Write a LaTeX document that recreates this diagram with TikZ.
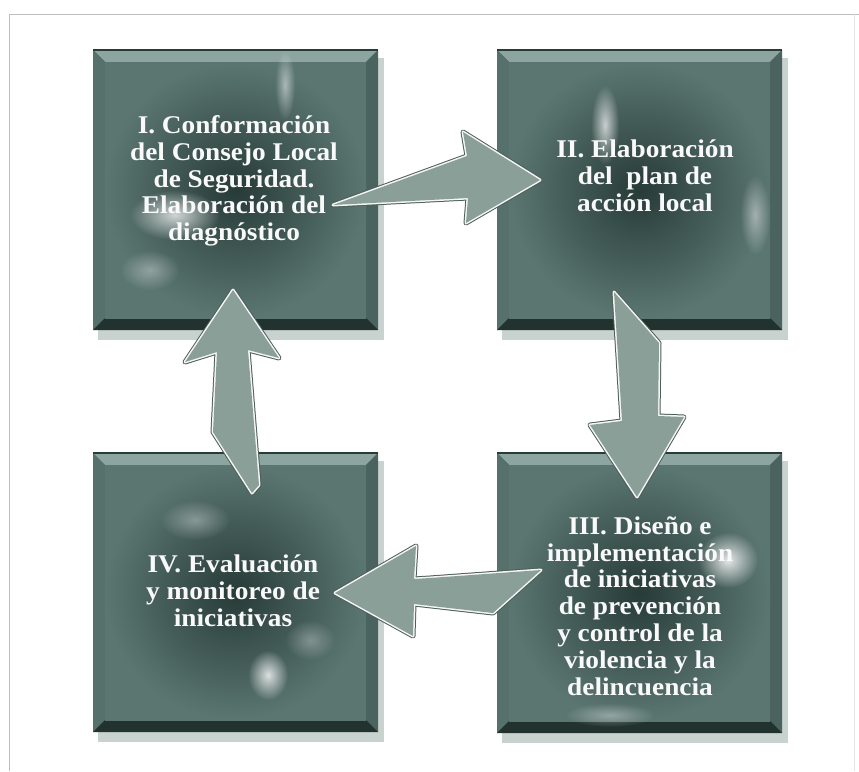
\documentclass[tikz,border=0pt]{standalone}
\usepackage{fontspec}
\setmainfont[FakeStretch=1.07]{Liberation Serif}
\usetikzlibrary{fadings}
\definecolor{boxdark}{HTML}{273B37}
\definecolor{boxmid}{HTML}{3A524D}
\definecolor{boxedge}{HTML}{5B7671}
\definecolor{bevtop}{HTML}{8CA5A0}
\definecolor{bevleft}{HTML}{56716B}
\definecolor{bevright}{HTML}{4A635E}
\definecolor{bevbot}{HTML}{22332F}
\definecolor{shadowc}{HTML}{C8D2CE}
\definecolor{arrowfill}{HTML}{8A9F97}
\definecolor{arrowdark}{HTML}{4D5F59}
\definecolor{framec}{HTML}{BDBDBD}
\tikzfading[name=glowfade, inner color=transparent!0, outer color=transparent!100]
\tikzset{
  boxtext/.style={text=white!95!gray, font=\fontsize{25.5}{26.8}\selectfont\bfseries, align=center},
  arrowline/.style={draw=arrowdark, line width=5pt, line join=round},
  arrowwhite/.style={draw=white!92!gray, line width=3pt, line join=round},
  glare/.style={fill=white, path fading=glowfade}
}
\newcommand{\mybox}[5]{%
  % #1 name, #2 left, #3 top, #4 right, #5 bottom
  \fill[shadowc] (#2+5,#3+8) rectangle (#4+6,#5+10);
  \fill[boxmid] (#2,#3) rectangle (#4,#5);
  \fill[bevtop] (#2,#3) -- (#4,#3) -- (#4-12,#3+12) -- (#2+12,#3+12) -- cycle;
  \fill[bevleft] (#2,#3) -- (#2+12,#3+12) -- (#2+12,#5-12) -- (#2,#5) -- cycle;
  \fill[bevright] (#4,#3) -- (#4-12,#3+12) -- (#4-12,#5-12) -- (#4,#5) -- cycle;
  \fill[bevbot] (#2,#5) -- (#2+12,#5-12) -- (#4-12,#5-12) -- (#4,#5) -- cycle;
  \shade[inner color=boxdark, outer color=boxedge] (#2+12,#3+12) rectangle (#4-12,#5-12);
  \draw[boxdark, line width=1.5pt] (#2,#3) -- (#4,#3);
  \coordinate (#1) at ({(#2+#4)/2},{(#3+#5)/2});
}
\begin{document}
\begin{tikzpicture}[x=1pt,y=-1pt]
\useasboundingbox (0,0) rectangle (859,771);
\fill[white] (0,0) rectangle (859,771);
% scan frame
\draw[framec, line width=1pt] (9,771) -- (9,14) -- (859,14);
\draw[framec!40, line width=0.8pt] (854,14) -- (854,771);

% boxes
\mybox{bI}{93}{50}{378}{330}
\mybox{bII}{497}{50}{782}{330}
\mybox{bIV}{93}{453}{378}{732}
\mybox{bIII}{497}{453}{782}{733}

% glare highlights
\begin{scope}
\clip (93,50) rectangle (378,330);
\fill[glare, opacity=0.75] (175,215) ellipse (45 and 25);
\fill[glare, opacity=0.5] (285,85) ellipse (10 and 35);
\fill[glare, opacity=0.35] (150,270) ellipse (30 and 20);
\end{scope}
\begin{scope}
\clip (497,50) rectangle (782,330);
\fill[glare, opacity=0.7] (605,125) ellipse (14 and 40);
\fill[glare, opacity=0.45] (755,215) ellipse (15 and 40);
\end{scope}
\begin{scope}
\clip (497,453) rectangle (782,733);
\fill[glare, opacity=0.85] (728,560) ellipse (30 and 28);
\fill[glare, opacity=0.35] (610,715) ellipse (45 and 12);
\end{scope}
\begin{scope}
\clip (93,453) rectangle (378,732);
\fill[glare, opacity=0.8] (268,675) ellipse (20 and 25);
\fill[glare, opacity=0.35] (195,520) ellipse (35 and 20);
\fill[glare, opacity=0.3] (310,640) ellipse (25 and 20);
\end{scope}

% texts
\node[boxtext] (tI) at (234,181) {I. Conformación\\del Consejo Local\\de Seguridad.\\Elaboración del\\diagnóstico};
\node[boxtext] (tII) at (645,176) {II. Elaboración\\del\ \ plan de\\acción local};
\node[boxtext] (tIII) at (640,606) {III. Diseño e\\implementación\\de iniciativas\\de prevención\\y control de la\\violencia y la\\delincuencia};
\node[boxtext] (tIV) at (233,591) {IV. Evaluación\\y monitoreo de\\iniciativas};

% arrows (block arrows between boxes)
\def\arrA{(333,205) -- (467,156) -- (463,132) -- (540,180) -- (466,223) -- (468,198) -- cycle}
\def\arrB{(614,292) -- (659,343) -- (658,416) -- (684,417) -- (637,497) -- (590,425) -- (622,421) -- cycle}
\def\arrC{(541,570) -- (430,578) -- (414,579) -- (416,546) -- (335,593) -- (413,636) -- (414,604) -- (493,613) -- cycle}
\def\arrD{(252,493) -- (213,432) -- (217,352) -- (185,362) -- (233,290) -- (279,358) -- (248,350) -- (259,485) -- cycle}
\foreach \p in {\arrA,\arrB,\arrC,\arrD}{
  \draw[arrowline] \p;
  \draw[arrowwhite] \p;
  \fill[arrowfill] \p;
}
\end{tikzpicture}
\end{document}
